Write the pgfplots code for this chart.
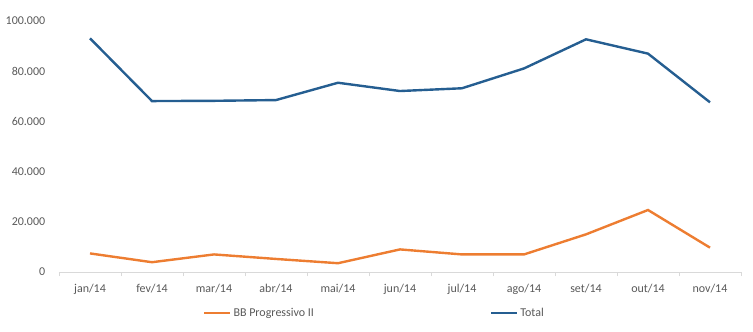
\documentclass[border=0pt]{standalone}
\usepackage{pgfplots}
\pgfplotsset{compat=1.18}
\usepackage{fontspec}
\setmainfont{Carlito}
\definecolor{totalblue}{HTML}{255E91}
\definecolor{bborange}{HTML}{ED7D31}
\definecolor{txtgray}{HTML}{595959}
\definecolor{axgray}{HTML}{D9D9D9}
\begin{document}
\begin{tikzpicture}
\begin{axis}[
  scale only axis,
  width=682bp, height=251bp,
  xmin=-0.5, xmax=10.5,
  ymin=0, ymax=100000,
  xtick={0,1,2,3,4,5,6,7,8,9,10},
  xticklabels={jan/14,fev/14,mar/14,abr/14,mai/14,jun/14,jul/14,ago/14,set/14,out/14,nov/14},
  minor xtick={-0.5,0.5,1.5,2.5,3.5,4.5,5.5,6.5,7.5,8.5,9.5,10.5},
  major x tick style={draw=none},
  minor tick length=4bp,
  tick align=outside,
  minor x tick style={axgray, line width=0.75bp},
  ytick={0,20000,40000,60000,80000,100000},
  yticklabels={0,20.000,40.000,60.000,80.000,100.000},
  scaled y ticks=false,
  axis x line*=bottom,
  axis y line*=left,
  x axis line style={axgray, line width=0.75bp, -},
  y axis line style={draw=none},
  major y tick style={draw=none},
  tick label style={font=\fontsize{12bp}{14bp}\selectfont, text=txtgray},
  yticklabel style={xshift=-6bp},
  xticklabel style={yshift=-4bp},
  legend style={at={(0.4626,-0.163)}, anchor=center, draw=none, fill=none,
    font=\fontsize{12bp}{14bp}\selectfont, text=txtgray,
    /tikz/every even column/.append style={column sep=174bp},
    inner sep=0pt},
  legend columns=2,
  legend image code/.code={\draw[#1] (0bp,0bp) -- (26bp,0bp);},
  clip=false,
]
\addplot[bborange, line width=2.4bp] coordinates {
(0,7400) (1,3900) (2,7000) (3,5200) (4,3500) (5,9000) (6,7000) (7,7000) (8,15000) (9,24700) (10,9700)};
\addlegendentry{BB Progressivo II}
\addplot[totalblue, line width=2.4bp] coordinates {
(0,93100) (1,68100) (2,68200) (3,68500) (4,75400) (5,72100) (6,73200) (7,81100) (8,92700) (9,87000) (10,67600)};
\addlegendentry{Total}
\end{axis}
\path[use as bounding box] (-59bp,-60bp) rectangle (694bp,272bp);
\end{tikzpicture}
\end{document}
